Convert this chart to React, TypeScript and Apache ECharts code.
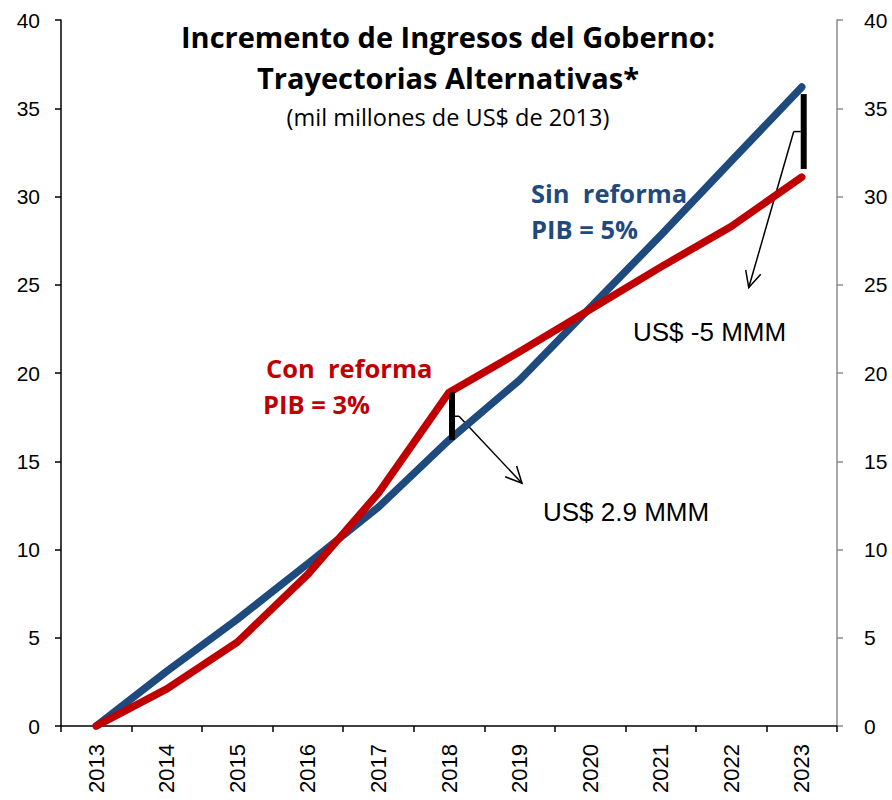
import React, { useEffect, useRef } from "react";
import * as echarts from "echarts";

const years = ["2013", "2014", "2015", "2016", "2017", "2018", "2019", "2020", "2021", "2022", "2023"];
const sinReforma = [0, 3.1, 6.05, 9.2, 12.4, 16.2, 19.6, 23.7, 27.8, 32.0, 36.2];
const conReforma = [0, 2.1, 4.75, 8.6, 13.2, 18.9, 21.2, 23.6, 26.0, 28.3, 31.1];
const yTicks = [0, 5, 10, 15, 20, 25, 30, 35, 40];
const gapLabels = ["US$ 2.9 MMM", "US$ -5 MMM"];
const titleLines = ["Incremento de Ingresos del Goberno:", "Trayectorias Alternativas*"];
const subtitle = "(mil millones de US$ de 2013)";

const BLUE = "#1F4A7E";
const RED = "#C00000";

function arrowGraphics(x1: number, y1: number, x2: number, y2: number) {
  const ang = Math.atan2(y2 - y1, x2 - x1);
  const len = 18;
  const a1 = ang + Math.PI - 0.45;
  const a2 = ang + Math.PI + 0.45;
  return [
    { type: "line", shape: { x1, y1, x2, y2 }, style: { stroke: "#000", lineWidth: 1.5 }, silent: true },
    {
      type: "polyline",
      shape: {
        points: [
          [x2 + len * Math.cos(a1), y2 + len * Math.sin(a1)],
          [x2, y2],
          [x2 + len * Math.cos(a2), y2 + len * Math.sin(a2)],
        ],
      },
      style: { stroke: "#000", lineWidth: 1.5, fill: null },
      silent: true,
    },
  ];
}

export default function App() {
  const ref = useRef<HTMLDivElement>(null);
  useEffect(() => {
    if (!ref.current) return;
    const chart = echarts.init(ref.current, null, { renderer: "svg" });
    const axisFont = { fontFamily: "Liberation Sans", fontSize: 21, color: "#000" };
    chart.setOption({
      animation: false,
      backgroundColor: "#fff",
      grid: { left: 61, right: 55, top: 20, bottom: 74, containLabel: false },
      xAxis: {
        type: "category",
        data: years,
        boundaryGap: true,
        axisLine: { lineStyle: { color: "#000", width: 1.5 } },
        axisTick: { show: true, interval: 0, length: 6, lineStyle: { color: "#000", width: 1.5 } },
        axisLabel: { ...axisFont, fontSize: 22, rotate: 90, margin: 18, interval: 0 },
        splitLine: { show: false },
      },
      yAxis: [
        {
          type: "value",
          min: yTicks[0],
          max: yTicks[yTicks.length - 1],
          interval: 5,
          position: "left",
          axisLine: { show: true, lineStyle: { color: "#000", width: 1.5 } },
          axisTick: { show: true, length: 6, lineStyle: { color: "#000", width: 1.5 } },
          axisLabel: { ...axisFont, margin: 21 },
          splitLine: { show: false },
        },
        {
          type: "value",
          min: yTicks[0],
          max: yTicks[yTicks.length - 1],
          interval: 5,
          position: "right",
          axisLine: { show: true, lineStyle: { color: "#8c8c8c", width: 1.5 } },
          axisTick: { show: true, length: 6, lineStyle: { color: "#8c8c8c", width: 1.5 } },
          axisLabel: { ...axisFont, margin: 27 },
          splitLine: { show: false },
        },
      ],
      series: [
        {
          name: "Sin reforma",
          type: "line",
          data: sinReforma,
          symbol: "none",
          lineStyle: { color: BLUE, width: 7.5, cap: "round", join: "round" },
          z: 2,
        },
        {
          name: "Con reforma",
          type: "line",
          data: conReforma,
          symbol: "none",
          lineStyle: { color: RED, width: 7.5, cap: "round", join: "round" },
          z: 3,
        },
      ],
    });

    const p = (i: number, v: number) =>
      chart.convertToPixel({ xAxisIndex: 0, yAxisIndex: 0 }, [years[i], v]) as number[];

    // Gap 2018
    const i1 = 5;
    const top1 = p(i1, conReforma[i1]);
    const bot1 = p(i1, sinReforma[i1]);
    const bx1 = top1[0] + 3;
    const mid1 = (top1[1] + bot1[1]) / 2;
    // Gap 2023
    const i2 = 10;
    const top2 = p(i2, sinReforma[i2]);
    const bot2 = p(i2, conReforma[i2]);
    const bx2 = top2[0] + 2;
    const t2 = top2[1] + 7;
    const b2 = bot2[1] - 8;
    const mid2 = (t2 + b2) / 2;

    const boldFont = "Open Sans";
    const graphics: any[] = [
      {
        type: "line",
        shape: { x1: bx1, y1: top1[1], x2: bx1, y2: bot1[1] },
        style: { stroke: "#000", lineWidth: 6 },
        z: 10,
      },
      { type: "line", shape: { x1: bx1 + 3, y1: mid1, x2: bx1 + 7, y2: mid1 }, style: { stroke: "#000", lineWidth: 1.5 } },
      ...arrowGraphics(bx1 + 7, mid1, bx1 + 70, mid1 + 67),
      {
        type: "line",
        shape: { x1: bx2, y1: t2, x2: bx2, y2: b2 },
        style: { stroke: "#000", lineWidth: 6 },
        z: 10,
      },
      { type: "line", shape: { x1: bx2 - 3, y1: mid2, x2: bx2 - 10, y2: mid2 }, style: { stroke: "#000", lineWidth: 1.5 } },
      ...arrowGraphics(bx2 - 10, mid2, bx2 - 55, mid2 + 156),
      {
        type: "text",
        x: 543,
        y: 512,
        style: { text: gapLabels[0], font: "26px 'Liberation Sans'", fill: "#000", textVerticalAlign: "middle" },
      },
      {
        type: "text",
        x: 633,
        y: 332,
        style: { text: gapLabels[1], font: "26px 'Liberation Sans'", fill: "#000", textVerticalAlign: "middle" },
      },
      {
        type: "text",
        x: 266,
        y: 368,
        style: { text: "Con  reforma", font: `bold 25.5px '${boldFont}'`, fill: RED, textVerticalAlign: "middle" },
      },
      {
        type: "text",
        x: 263,
        y: 404,
        style: { text: "PIB = 3%", font: `bold 25.5px '${boldFont}'`, fill: RED, textVerticalAlign: "middle" },
      },
      {
        type: "text",
        x: 531,
        y: 193,
        style: { text: "Sin  reforma", font: `bold 25.5px '${boldFont}'`, fill: BLUE, textVerticalAlign: "middle" },
      },
      {
        type: "text",
        x: 531,
        y: 229,
        style: { text: "PIB = 5%", font: `bold 25.5px '${boldFont}'`, fill: BLUE, textVerticalAlign: "middle" },
      },
      {
        type: "text",
        x: 448,
        y: 36,
        style: { text: titleLines[0], font: `bold 29px '${boldFont}'`, fill: "#000", textAlign: "center", textVerticalAlign: "middle" },
      },
      {
        type: "text",
        x: 448,
        y: 77,
        style: { text: titleLines[1], font: `bold 29px '${boldFont}'`, fill: "#000", textAlign: "center", textVerticalAlign: "middle" },
      },
      {
        type: "text",
        x: 448,
        y: 117,
        style: { text: subtitle, font: `23.5px '${boldFont}'`, fill: "#000", textAlign: "center", textVerticalAlign: "middle" },
      },
    ];
    chart.setOption({ graphic: graphics });

    return () => chart.dispose();
  }, []);
  return (
    <div
      ref={ref}
      style={{ position: "fixed", left: 0, top: 0, width: 892, height: 800, background: "#fff" }}
    />
  );
}
